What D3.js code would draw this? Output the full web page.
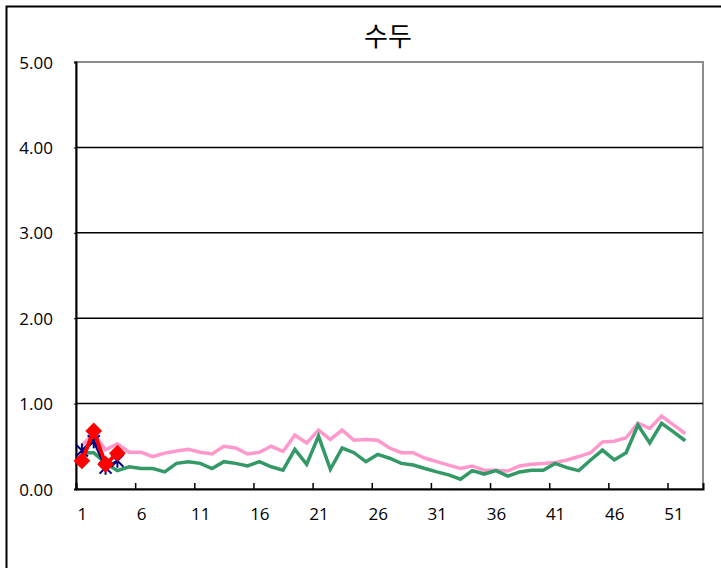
<!DOCTYPE html>
<html>
<head>
<meta charset="utf-8">
<script src="https://cdn.jsdelivr.net/npm/d3@7"></script>
<style>
  body { margin: 0; background: #fff; }
  text { font-family: "Open Sans", sans-serif; }
</style>
</head>
<body>
<div id="chart"></div>
<script>
const width = 721;
const height = 568;
const margin = { top: 62, right: 18, bottom: 79, left: 76 };

const title = "수두";
const weeks = d3.range(1, 54);
const xTickLabels = [1, 6, 11, 16, 21, 26, 31, 36, 41, 46, 51];
const yTicks = [0, 1, 2, 3, 4, 5];

// pink: previous seasons average (weeks 1-52)
const pinkValues = [
  0.51, 0.65, 0.46, 0.53, 0.43, 0.43, 0.38, 0.42, 0.445, 0.465,
  0.43, 0.41, 0.50, 0.48, 0.41, 0.43, 0.50, 0.44, 0.63, 0.54,
  0.69, 0.58, 0.69, 0.57, 0.58, 0.57, 0.48, 0.425, 0.425, 0.36,
  0.32, 0.28, 0.24, 0.27, 0.22, 0.22, 0.21, 0.27, 0.29, 0.30,
  0.31, 0.34, 0.38, 0.425, 0.55, 0.56, 0.60, 0.77, 0.71, 0.855,
  0.75, 0.65
];
// green: last season
const greenValues = [
  0.425, 0.425, 0.30, 0.215, 0.26, 0.24, 0.24, 0.20, 0.30, 0.32,
  0.30, 0.24, 0.32, 0.30, 0.27, 0.32, 0.26, 0.22, 0.465, 0.29,
  0.62, 0.23, 0.48, 0.425, 0.32, 0.405, 0.36, 0.30, 0.28, 0.24,
  0.20, 0.165, 0.115, 0.215, 0.175, 0.215, 0.15, 0.20, 0.22, 0.22,
  0.30, 0.25, 0.215, 0.34, 0.455, 0.34, 0.425, 0.75, 0.54, 0.77,
  0.67, 0.565
];
// navy asterisks: earlier weeks of current season
const navyValues = [0.45, 0.56, 0.25, 0.33];
// red diamonds: current season
const redValues = [0.33, 0.68, 0.29, 0.42];

const svg = d3.select("#chart")
  .append("svg")
  .attr("width", width)
  .attr("height", height);

// outer chart frame
svg.append("rect")
  .attr("x", 6.5).attr("y", 6.5)
  .attr("width", width + 20).attr("height", height + 20)
  .attr("fill", "none")
  .attr("stroke", "#000")
  .attr("stroke-width", 2);

const x = d3.scaleLinear()
  .domain([0.5, 53.5])
  .range([margin.left, width - margin.right]);

const y = d3.scaleLinear()
  .domain([0, 5])
  .range([height - margin.bottom, margin.top]);

// title
svg.append("text")
  .attr("x", 388)
  .attr("y", 46)
  .attr("text-anchor", "middle")
  .style("font-family", "'Noto Sans CJK KR', sans-serif")
  .style("font-size", "26px")
  .text(title);

// plot area border
svg.append("rect")
  .attr("x", margin.left)
  .attr("y", margin.top)
  .attr("width", width - margin.right - margin.left)
  .attr("height", height - margin.bottom - margin.top)
  .attr("fill", "none")
  .attr("stroke", "#8c8c8c")
  .attr("stroke-width", 2);

// gridlines
svg.append("g")
  .selectAll("line")
  .data(yTicks.filter(d => d > 0 && d < 5))
  .join("line")
  .attr("x1", margin.left)
  .attr("x2", width - margin.right)
  .attr("y1", d => y(d))
  .attr("y2", d => y(d))
  .attr("stroke", "#000")
  .attr("stroke-width", 1.5);

// y axis
const yAxis = svg.append("g")
  .attr("transform", `translate(${margin.left}, 0)`)
  .call(d3.axisLeft(y).tickValues(yTicks).tickFormat(d3.format(".2f")).tickSize(2).tickPadding(21));
yAxis.select(".domain").attr("stroke", "#000").attr("stroke-width", 2);
yAxis.selectAll("text").style("font-size", "17px").attr("fill", "#000").attr("dy", "0.36em");

// x axis: ticks between categories, labels on categories
const xAxis = svg.append("g")
  .attr("transform", `translate(0, ${y(0)})`)
  .call(d3.axisBottom(x)
    .tickValues(xTickLabels.map(d => d - 0.5))
    .tickSize(-6)
    .tickFormat(""));
xAxis.select(".domain").attr("stroke", "#000").attr("stroke-width", 2);
xAxis.selectAll(".tick line").attr("stroke", "#000").attr("stroke-width", 1.5);

const xLabels = svg.append("g")
  .attr("transform", `translate(0, ${y(0)})`)
  .call(d3.axisBottom(x).tickValues(xTickLabels).tickSize(0).tickPadding(19));
xLabels.select(".domain").remove();
xLabels.selectAll("text").style("font-size", "17px").attr("fill", "#000");

const line = d3.line()
  .x((d, i) => x(weeks[i]))
  .y(d => y(d));

svg.append("path")
  .datum(pinkValues)
  .attr("fill", "none")
  .attr("stroke", "#ff99cc")
  .attr("stroke-width", 3.5)
  .attr("d", line);

svg.append("path")
  .datum(greenValues)
  .attr("fill", "none")
  .attr("stroke", "#339966")
  .attr("stroke-width", 3.5)
  .attr("d", line);

// navy series with asterisk markers
svg.append("path")
  .datum(navyValues)
  .attr("fill", "none")
  .attr("stroke", "#000080")
  .attr("stroke-width", 2.5)
  .attr("d", line);

svg.append("g")
  .selectAll("path")
  .data(navyValues)
  .join("path")
  .attr("transform", (d, i) => `translate(${x(weeks[i])}, ${y(d)})`)
  .attr("d", "M-6,-6L6,6M-6,6L6,-6M0,-7L0,7")
  .attr("stroke", "#000080")
  .attr("stroke-width", 2)
  .attr("fill", "none");

// red series with diamond markers
svg.append("path")
  .datum(redValues)
  .attr("fill", "none")
  .attr("stroke", "#ff0000")
  .attr("stroke-width", 4)
  .attr("d", line);

svg.append("g")
  .selectAll("path")
  .data(redValues)
  .join("path")
  .attr("transform", (d, i) => `translate(${x(weeks[i])}, ${y(d)})`)
  .attr("d", d3.symbol(d3.symbolDiamond2, 180))
  .attr("fill", "#ff0000");
</script>
</body>
</html>
